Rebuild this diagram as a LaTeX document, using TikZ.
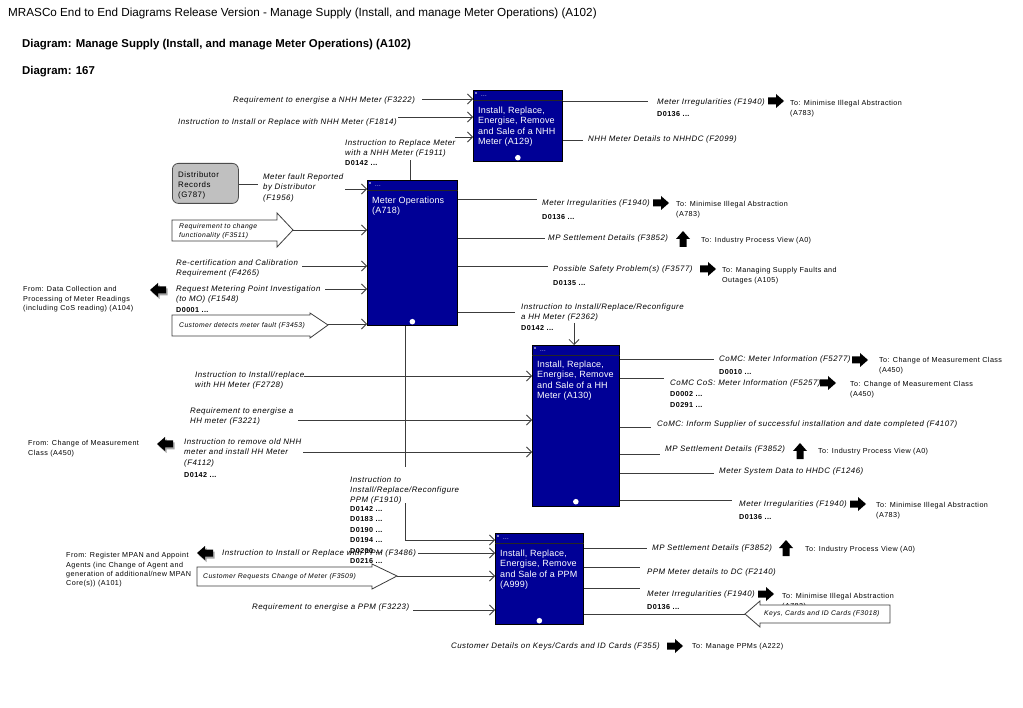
\documentclass[tikz,border=0pt]{standalone}
\usepackage{fontspec}
\setmainfont{Liberation Sans}[LetterSpace=6]
\newfontfamily\titlefont{Liberation Sans}
\newfontfamily\boxfont{Liberation Sans}[LetterSpace=2]
\usetikzlibrary{arrows.meta}
\definecolor{procblue}{RGB}{0,0,150}
\definecolor{lnc}{RGB}{60,60,60}
\definecolor{distgray}{RGB}{192,192,192}
\tikzset{
  proc/.style={draw=black, fill=procblue, line width=0.7pt, anchor=north west, inner sep=0pt},
  hdr/.style={draw=black!85, line width=0.6pt},
  flow/.style={draw=lnc, line width=0.8pt},
  arr/.style={flow, -{Straight Barb[length=5pt,width=10pt,line width=0.8pt]}},
  lbl/.style={font=\fontsize{7.9}{10.5}\selectfont\itshape, inner sep=0pt, align=left},
  lbll/.style={lbl, anchor=west},
  lblm/.style={lbl, anchor=north west},
  dcode/.style={font=\fontsize{7.2}{10.5}\selectfont\bfseries, inner sep=0pt, anchor=west},
  tolbl/.style={font=\fontsize{7.2}{9.2}\selectfont, inner sep=0pt, align=left, anchor=north west},
  smalll/.style={font=\fontsize{6.8}{9.5}\selectfont\itshape, inner sep=0pt, align=left, anchor=north west},
  boxtxt/.style={font=\boxfont\fontsize{9}{10.5}\selectfont, text=white, inner sep=0pt, align=left, anchor=north west},
  dotstxt/.style={font=\fontsize{6}{6}\selectfont, text=white, inner sep=0pt},
  wdot/.style={fill=white, draw=none, circle, inner sep=0pt, minimum size=5.6pt},
  bigarrow/.style={draw=lnc, fill=white, line width=0.8pt},
  distbox/.style={draw=black!70, fill=distgray, rounded corners=6pt, line width=0.8pt, anchor=north west, inner sep=0pt, minimum width=66pt, minimum height=40pt},
  fatright/.pic={\fill[black] (-8,-3.5) -- (0,-3.5) -- (0,-7) -- (8,0) -- (0,7) -- (0,3.5) -- (-8,3.5) -- cycle;},
  fatup/.pic={\fill[black] (-3.5,8) -- (-3.5,0) -- (-7,0) -- (0,-8) -- (7,0) -- (3.5,0) -- (3.5,8) -- cycle;},
  fromicon/.pic={\fill[black!35] (9.5,-1.5) -- (1.5,-1.5) -- (1.5,-5) -- (-6.5,2) -- (1.5,9) -- (1.5,5.5) -- (9.5,5.5) -- cycle;
                 \fill[black] (8,-3.5) -- (0,-3.5) -- (0,-7) -- (-8,0) -- (0,7) -- (0,3.5) -- (8,3.5) -- cycle;},
}
\newcommand{\prochead}[1]{%
  \draw[hdr] ([yshift=-10pt]#1.north west) -- ([yshift=-10pt]#1.north east);
  \fill[white] ([xshift=3pt,yshift=-3pt]#1.north west) circle (0.8pt);
  \node[dotstxt] at ([xshift=11pt,yshift=-6pt]#1.north west) {...};}
\begin{document}
\begin{tikzpicture}[x=1pt,y=-1pt]
\fill[white] (0,0) rectangle (1023,708);
\useasboundingbox (0,0) rectangle (1023,708);

% titles
\node[anchor=west, inner sep=0pt, font=\titlefont\fontsize{11.7}{13}\selectfont] (title) at (8,13) {MRASCo End to End Diagrams Release Version - Manage Supply (Install, and manage Meter Operations) (A102)};
\node[anchor=west, inner sep=0pt, font=\titlefont\fontsize{11.4}{12}\selectfont\bfseries] (dtitle) at (22,45) {Diagram: Manage Supply (Install, and manage Meter Operations) (A102)};
\node[anchor=west, inner sep=0pt, font=\titlefont\fontsize{11.4}{12}\selectfont\bfseries] (dnum) at (22,72) {Diagram: 167};

% process boxes
\node[proc, minimum width=89pt, minimum height=71pt] (a129) at (473,90) {};
\node[proc, minimum width=90pt, minimum height=145pt] (a718) at (367,180) {};
\node[proc, minimum width=87pt, minimum height=161pt] (a130) at (532,345) {};
\node[proc, minimum width=88pt, minimum height=91pt] (a999) at (495,533) {};
\prochead{a129}\prochead{a718}\prochead{a130}\prochead{a999}
\node[boxtxt] (t129) at ([xshift=5pt,yshift=-16.5pt]a129.north west) {Install, Replace,\\Energise, Remove\\and Sale of a NHH\\Meter (A129)};
\node[boxtxt] (t718) at ([xshift=5pt,yshift=-16.5pt]a718.north west) {Meter Operations\\(A718)};
\node[boxtxt] (t130) at ([xshift=5pt,yshift=-15.5pt]a130.north west) {Install, Replace,\\Energise, Remove\\and Sale of a HH\\Meter (A130)};
\node[boxtxt] (t999) at ([xshift=5pt,yshift=-16.5pt]a999.north west) {Install, Replace,\\Energise, Remove\\and Sale of a PPM\\(A999)};
\node[wdot] (d129) at ([yshift=4pt]a129.south) {};
\node[wdot] (d718) at ([yshift=4pt]a718.south) {};
\node[wdot] (d130) at ([yshift=5pt]a130.south) {};
\node[wdot] (d999) at ([yshift=4pt]a999.south) {};

% Distributor records
\node[distbox] (g787) at (172,163) {};
\node[font=\fontsize{7.9}{10}\selectfont, inner sep=0pt, align=left, anchor=north west] (g787t) at (178,171.3) {Distributor\\Records\\(G787)};

% ---------- A129 inputs
\node[lbll] (f3222) at (233,100) {Requirement to energise a NHH Meter (F3222)};
\draw[arr] (422,99) -- (a129.west |- 0,99);
\node[lbll] (f1814) at (178,122) {Instruction to Install or Replace with NHH Meter (F1814)};
\draw[arr] (398,117) -- (a129.west |- 0,117);
\node[lblm] (f1911) at (345,139.3) {Instruction to Replace Meter\\with a NHH Meter (F1911)};
\node[dcode] (f1911d) at (345,163) {D0142 ...};
\draw[flow] (a718.north -| 410,0) -- (410,160);
\draw[arr] (455,137) -- (a129.west |- 0,137);

% ---------- A129 outputs
\draw[flow] (a129.east |- 0,101) -- (648,101);
\node[lbll] (o129a) at (657,102) {Meter Irregularities (F1940)};
\node[dcode] (o129ad) at (657,114) {D0136 ...};
\pic (fa1) at (776,101) {fatright};
\node[tolbl] (to1) at (790,100.5) {To: Minimise Illegal Abstraction\\(A783)};
\draw[flow] (a129.east |- 0,140) -- (583,140);
\node[lbll] (o129b) at (588,139) {NHH Meter Details to NHHDC (F2099)};

% ---------- A718 inputs
\draw[flow] (g787.east |- 0,184) -- (258,184);
\node[lblm] (f1956) at (263,173.3) {Meter fault Reported\\by Distributor\\(F1956)};
\draw[arr] (345,189) -- (a718.west |- 0,189);

\draw[bigarrow] (172,220) -- (277,220) -- (277,213) -- (293,230) -- (277,247) -- (277,241) -- (172,241) -- cycle;
\node[smalll] (f3511) at (179,223.3) {Requirement to change\\functionality (F3511)};
\draw[arr] (293,230) -- (a718.west |- 0,230);

\node[lblm] (f4265) at (176,259.3) {Re-certification and Calibration\\Requirement (F4265)};
\draw[arr] (302,266) -- (a718.west |- 0,266);

\node[lblm] (f1548) at (176,285.3) {Request Metering Point Investigation\\(to MO) (F1548)};
\node[dcode] (f1548d) at (176,310) {D0001 ...};
\draw[arr] (325,289) -- (a718.west |- 0,289);
\pic (fr1) at (158,290) {fromicon};
\node[tolbl] (from1) at (23,286.5) {From: Data Collection and\\Processing of Meter Readings\\(including CoS reading) (A104)};

\draw[bigarrow] (172,315) -- (310,315) -- (310,313) -- (328,325) -- (310,338) -- (310,336) -- (172,336) -- cycle;
\node[smalll, anchor=west] (f3453) at (179,326) {Customer detects meter fault (F3453)};
\draw[arr] (328,324) -- (a718.west |- 0,324);

% ---------- A718 outputs
\draw[flow] (a718.east |- 0,199) -- (537,199);
\node[lbll] (o718a) at (542,203) {Meter Irregularities (F1940)};
\node[dcode] (o718ad) at (542,217) {D0136 ...};
\pic (fa2) at (661,203) {fatright};
\node[tolbl] (to2) at (676,201.5) {To: Minimise Illegal Abstraction\\(A783)};

\draw[flow] (a718.east |- 0,238) -- (545,238);
\node[lbll] (o718b) at (548,238) {MP Settlement Details (F3852)};
\pic (fu1) at (683,239) {fatup};
\node[tolbl, anchor=west] (to3) at (701,241) {To: Industry Process View (A0)};

\draw[flow] (a718.east |- 0,266) -- (548,266);
\node[lbll] (o718c) at (553,269) {Possible Safety Problem(s) (F3577)};
\node[dcode] (o718cd) at (553,283) {D0135 ...};
\pic (fa3) at (708,269) {fatright};
\node[tolbl] (to4) at (722,267.5) {To: Managing Supply Faults and\\Outages (A105)};

\draw[flow] (a718.east |- 0,312) -- (515,312);
\node[lblm] (f2362) at (521,303.3) {Instruction to Install/Replace/Reconfigure\\a HH Meter (F2362)};
\node[dcode] (f2362d) at (521,328) {D0142 ...};
\draw[arr] (574,323) -- (a130.north -| 574,0);

% ---------- PPM instruction from A718
\draw[flow] (a718.south -| 405,0) -- (405,467);
\node[lbl, anchor=north west, font=\fontsize{7.9}{10}\selectfont\itshape] (f1910) at (350,476.3) {Instruction to\\Install/Replace/Reconfigure\\PPM (F1910)};
\node[dcode] (f1910a) at (350,509) {D0142 ...};
\node[dcode] (f1910b) at (350,519.5) {D0183 ...};
\node[dcode] (f1910c) at (350,530) {D0190 ...};
\node[dcode] (f1910d) at (350,540.5) {D0194 ...};
\node[dcode] (f1910e) at (350,551) {D0200 ...};
\node[dcode] (f1910f) at (350,561.5) {D0216 ...};
\draw[arr] (405,503) -- (405,540) -- (a999.west |- 0,540);

% ---------- A130 inputs
\node[lblm] (f2728) at (195,371.3) {Instruction to Install/replace\\with HH Meter (F2728)};
\draw[arr] (304,376) -- (a130.west |- 0,376);
\node[lblm] (f3221) at (190,407.3) {Requirement to energise a\\HH meter (F3221)};
\draw[arr] (298,420) -- (a130.west |- 0,420);
\node[lblm] (f4112) at (184,438.3) {Instruction to remove old NHH\\meter and install HH Meter\\(F4112)};
\node[dcode] (f4112d) at (184,475) {D0142 ...};
\draw[arr] (303,452) -- (a130.west |- 0,452);
\pic (fr2) at (165,444) {fromicon};
\node[tolbl] (from2) at (28,440.5) {From: Change of Measurement\\Class (A450)};

% ---------- A130 outputs
\draw[flow] (a130.east |- 0,359) -- (714,359);
\node[lbll] (p1) at (719,359) {CoMC: Meter Information (F5277)};
\node[dcode] (p1d) at (719,372) {D0010 ...};
\pic (fa4) at (860,360) {fatright};
\node[tolbl] (to5) at (879,357.5) {To: Change of Measurement Class\\(A450)};

\draw[flow] (a130.east |- 0,378) -- (664,378);
\node[lbll] (p2) at (670,383) {CoMC CoS: Meter Information (F5257)};
\node[dcode] (p2d) at (670,394) {D0002 ...};
\node[dcode] (p2e) at (670,405) {D0291 ...};
\pic (fa5) at (828,383) {fatright};
\node[tolbl] (to6) at (850,381.5) {To: Change of Measurement Class\\(A450)};

\draw[flow] (a130.east |- 0,427) -- (651,427);
\node[lbll] (p3) at (657,424) {CoMC: Inform Supplier of successful installation and date completed (F4107)};

\draw[flow] (a130.east |- 0,454) -- (660,454);
\node[lbll] (p4) at (665,449) {MP Settlement Details (F3852)};
\pic (fu2) at (800,451) {fatup};
\node[tolbl, anchor=west] (to7) at (818,452) {To: Industry Process View (A0)};

\draw[flow] (a130.east |- 0,473) -- (714,473);
\node[lbll] (p5) at (719,471) {Meter System Data to HHDC (F1246)};

\draw[flow] (a130.east |- 0,500) -- (732,500);
\node[lbll] (p6) at (739,504) {Meter Irregularities (F1940)};
\node[dcode] (p6d) at (739,517) {D0136 ...};
\pic (fa6) at (858,504) {fatright};
\node[tolbl] (to8) at (876,502.5) {To: Minimise Illegal Abstraction\\(A783)};

% ---------- A999 inputs
\node[lbll] (f3486) at (222,553) {Instruction to Install or Replace with PPM (F3486)};
\draw[arr] (418,553) -- (a999.west |- 0,553);
\pic (fr3) at (205,553) {fromicon};
\node[tolbl] (from3) at (66,552.5) {From: Register MPAN and Appoint\\Agents (inc Change of Agent and\\generation of additional/new MPAN\\Core(s)) (A101)};

\draw[bigarrow] (197,567) -- (372,567) -- (372,564) -- (397,576) -- (372,589) -- (372,586) -- (197,586) -- cycle;
\node[smalll, anchor=west] (f3509) at (203,577) {Customer Requests Change of Meter (F3509)};
\draw[arr] (397,576) -- (a999.west |- 0,576);

\node[lbll] (f3223) at (252,607) {Requirement to energise a PPM (F3223)};
\draw[arr] (413,610) -- (a999.west |- 0,610);

% ---------- A999 outputs
\draw[flow] (a999.east |- 0,548) -- (647,548);
\node[lbll] (q1) at (652,548) {MP Settlement Details (F3852)};
\pic (fu3) at (786,548) {fatup};
\node[tolbl, anchor=west] (to9) at (805,550) {To: Industry Process View (A0)};

\draw[flow] (a999.east |- 0,567) -- (640,567);
\node[lbll] (q2) at (647,572) {PPM Meter details to DC (F2140)};

\draw[flow] (a999.east |- 0,588) -- (640,588);
\node[lbll] (q3) at (647,594) {Meter Irregularities (F1940)};
\node[dcode] (q3d) at (647,607) {D0136 ...};
\pic (fa7) at (766,594) {fatright};
\node[tolbl] (to10) at (782,593.5) {To: Minimise Illegal Abstraction\\(A783)};

\draw[bigarrow] (890,605) -- (760,605) -- (760,601) -- (745,614) -- (760,627) -- (760,623) -- (890,623) -- cycle;
\node[smalll, anchor=west] (f3018) at (764,614) {Keys, Cards and ID Cards (F3018)};
\draw[flow] (a999.east |- 0,614) -- (745,614);

\node[lbl, anchor=east] (f355) at (660,646) {Customer Details on Keys/Cards and ID Cards (F355)};
\pic (fa8) at (675,646) {fatright};
\node[tolbl, anchor=west] (to11) at (692,647) {To: Manage PPMs (A222)};
\end{tikzpicture}
\end{document}
